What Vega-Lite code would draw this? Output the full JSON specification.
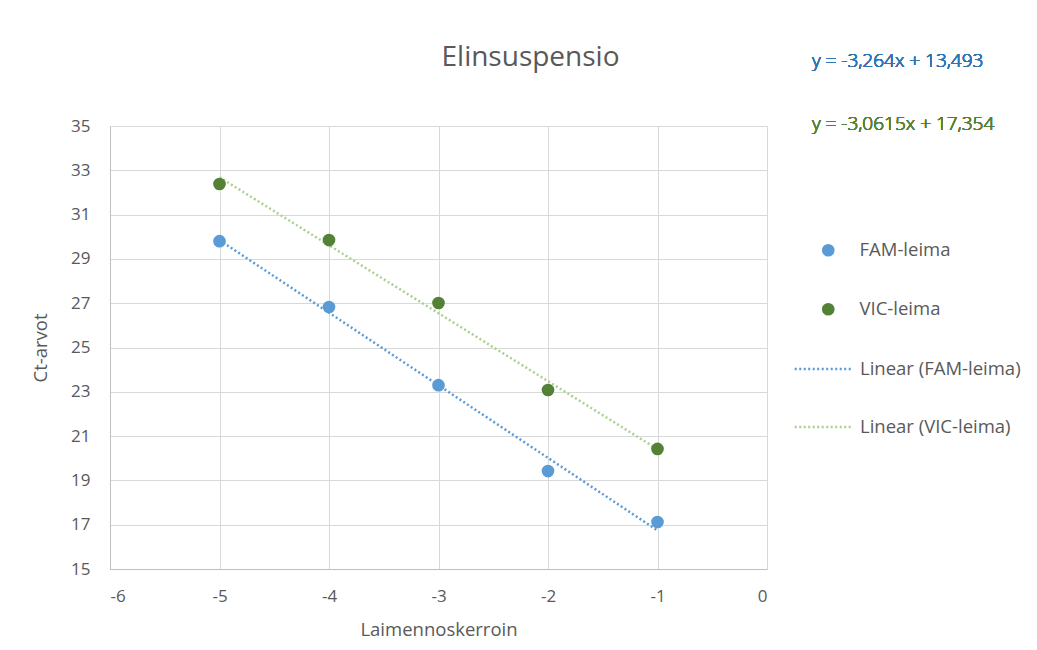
{
  "$schema": "https://vega.github.io/schema/vega-lite/v6.json",
  "width": 657,
  "height": 443,
  "autosize": {"type": "none"},
  "padding": {"left": 110, "top": 126, "right": 270, "bottom": 81},
  "background": "white",
  "title": {
    "text": "Elinsuspensio",
    "fontSize": 28,
    "font": "Open Sans",
    "fontWeight": "normal",
    "color": "#595959",
    "anchor": "middle",
    "dx": 92,
    "offset": -20
  },
  "config": {
    "font": "Open Sans",
    "view": {"stroke": null},
    "axis": {
      "labelFont": "Open Sans",
      "titleFont": "Open Sans",
      "labelColor": "#595959",
      "titleColor": "#595959",
      "labelFontSize": 17,
      "titleFontSize": 18.5,
      "titleFontWeight": "normal",
      "gridColor": "#d9d9d9",
      "domainColor": "#bfbfbf",
      "ticks": false
    },
    "legend": {
      "labelFont": "Open Sans",
      "labelFontSize": 18.5,
      "labelColor": "#595959",
      "labelLimit": 400
    }
  },
  "resolve": {"scale": {"color": "independent"}, "legend": {"color": "independent"}},
  "data": {
    "values": [
      {"x": -5, "y": 29.8, "series": "FAM-leima", "trend": "Linear (FAM-leima)"},
      {"x": -4, "y": 26.83, "series": "FAM-leima", "trend": "Linear (FAM-leima)"},
      {"x": -3, "y": 23.3, "series": "FAM-leima", "trend": "Linear (FAM-leima)"},
      {"x": -2, "y": 19.42, "series": "FAM-leima", "trend": "Linear (FAM-leima)"},
      {"x": -1, "y": 17.12, "series": "FAM-leima", "trend": "Linear (FAM-leima)"},
      {"x": -5, "y": 32.38, "series": "VIC-leima", "trend": "Linear (VIC-leima)"},
      {"x": -4, "y": 29.85, "series": "VIC-leima", "trend": "Linear (VIC-leima)"},
      {"x": -3, "y": 27.01, "series": "VIC-leima", "trend": "Linear (VIC-leima)"},
      {"x": -2, "y": 23.08, "series": "VIC-leima", "trend": "Linear (VIC-leima)"},
      {"x": -1, "y": 20.42, "series": "VIC-leima", "trend": "Linear (VIC-leima)"}
    ]
  },
  "layer": [
    {
      "transform": [{"regression": "y", "on": "x", "groupby": ["trend"], "method": "linear"}],
      "mark": {"type": "line", "strokeDash": [2, 2.5], "strokeWidth": 2.5, "clip": false},
      "encoding": {
        "x": {"field": "x", "type": "quantitative"},
        "y": {"field": "y", "type": "quantitative"},
        "color": {
          "field": "trend",
          "type": "nominal",
          "scale": {"domain": ["Linear (FAM-leima)", "Linear (VIC-leima)"], "range": ["#5b9bd5", "#a9d18e"]},
          "legend": {
            "title": null,
            "orient": "none",
            "legendX": 683,
            "legendY": 213,
            "symbolType": "stroke",
            "symbolSize": 3200,
            "symbolStrokeWidth": 2.5,
            "symbolDash": [2, 2.5],
            "rowPadding": 18,
            "labelOffset": 7
          }
        }
      }
    },
    {
      "mark": {"type": "point", "filled": true, "size": 160, "opacity": 1, "shape": "circle"},
      "encoding": {
        "x": {
          "field": "x",
          "type": "quantitative",
          "scale": {"domain": [-6, 0], "nice": false},
          "axis": {"values": [-6, -5, -4, -3, -2, -1, 0], "title": "Laimennoskerroin", "labelPadding": 19, "titlePadding": 16, "labelExpr": "'' + datum.value"}
        },
        "y": {
          "field": "y",
          "type": "quantitative",
          "scale": {"domain": [15, 35], "nice": false, "zero": false},
          "axis": {"values": [15, 17, 19, 21, 23, 25, 27, 29, 31, 33, 35], "title": "Ct-arvot", "labelPadding": 20, "titlePadding": 20}
        },
        "color": {
          "field": "series",
          "type": "nominal",
          "scale": {"domain": ["FAM-leima", "VIC-leima"], "range": ["#5b9bd5", "#538135"]},
          "legend": {
            "title": null,
            "orient": "none",
            "legendX": 709,
            "legendY": 115,
            "symbolType": "circle",
            "symbolSize": 160,
            "symbolOpacity": 1,
            "rowPadding": 40,
            "labelOffset": 22
          }
        }
      }
    },
    {
      "mark": {"type": "text", "align": "left", "baseline": "middle", "fontSize": 19, "fontWeight": 300, "color": "#2e75b6", "font": "Open Sans", "clip": false},
      "encoding": {
        "x": {"datum": 0.41},
        "y": {"datum": 37.93},
        "text": {"value": "y = -3,264x + 13,493"}
      }
    },
    {
      "mark": {"type": "text", "align": "left", "baseline": "middle", "fontSize": 19, "fontWeight": 300, "color": "#548235", "font": "Open Sans", "clip": false},
      "encoding": {
        "x": {"datum": 0.41},
        "y": {"datum": 35.09},
        "text": {"value": "y = -3,0615x + 17,354"}
      }
    }
  ]
}
